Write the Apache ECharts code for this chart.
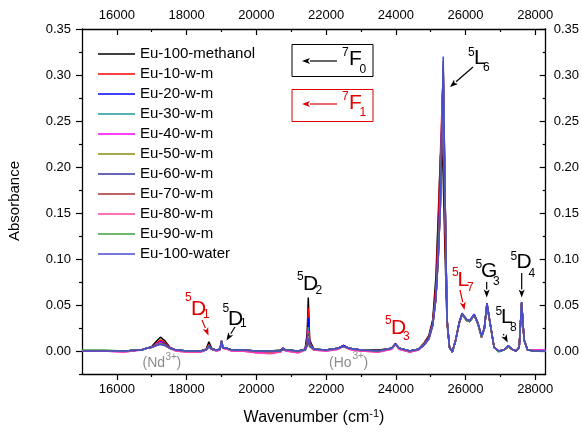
<!DOCTYPE html>
<html>
<head>
<meta charset="utf-8">
<script src="https://cdn.jsdelivr.net/npm/echarts@6/dist/echarts.min.js"></script>
<style>
  html, body { margin: 0; padding: 0; background: #fff; }
  #chart { width: 582px; height: 432px; }
</style>
</head>
<body>
<div id="chart"></div>
<script>
/* wavenumber grid (cm-1) shared by all spectra */
var wavenumber = [
  15000, 15600, 16200, 16700, 16850, 17000, 17120, 17250, 17380, 17520,
  17700, 18000, 18400, 18560, 18640, 18720, 18850, 18960, 19000, 19050,
  19150, 19300, 19600, 20000, 20400, 20700, 20760, 20850, 21200, 21400,
  21460, 21490, 21530, 21650, 22000, 22350, 22500, 22650, 23000, 23500,
  23880, 23990, 24100, 24400, 24650, 24800, 24950, 25060, 25150, 25220,
  25280, 25330, 25360, 25410, 25470, 25540, 25620, 25720, 25820, 25900,
  25950, 26040, 26120, 26250, 26360, 26460, 26540, 26615, 26700, 26820,
  26950, 27100, 27230, 27330, 27450, 27540, 27610, 27680, 27780, 28000,
  28300
];

var euMethanol = [
  0, 0, 0, 0.001, 0.003, 0.005, 0.010, 0.015, 0.011, 0.004,
  0.001, 0, 0, 0.002, 0.010, 0.003, 0.001, 0.002, 0.009, 0.003,
  0.003, 0.001, 0.001, 0, 0, 0.001, 0.003, 0.001, 0, 0.002,
  0.020, 0.058, 0.012, 0.002, 0.001, 0.003, 0.006, 0.003, 0.001, 0.001,
  0.003, 0.008, 0.003, 0, 0.002, 0.008, 0.017, 0.034, 0.080, 0.150,
  0.212, 0.225, 0.190, 0.110, 0.030, 0.004, -0.001, 0.012, 0.030, 0.039,
  0.041, 0.033, 0.032, 0.039, 0.029, 0.015, 0.024, 0.050, 0.031, 0.004,
  0, 0.001, 0.005, 0.002, 0, 0.004, 0.052, 0.012, 0.001, 0,
  0
];
var eu10 = [
  0, 0, 0, 0.001, 0.003, 0.004, 0.008, 0.012, 0.009, 0.004,
  0.001, 0, 0, 0.002, 0.007, 0.002, 0.001, 0.002, 0.010, 0.003,
  0.003, 0.001, 0.001, -0.001, -0.001, 0, 0.003, 0.001, -0.001, 0.002,
  0.016, 0.047, 0.010, 0.002, 0.001, 0.003, 0.006, 0.003, 0.001, 0,
  0.003, 0.008, 0.003, -0.001, 0.002, 0.008, 0.016, 0.032, 0.070, 0.135,
  0.215, 0.270, 0.225, 0.130, 0.032, 0.004, -0.001, 0.013, 0.032, 0.040,
  0.041, 0.033, 0.032, 0.039, 0.029, 0.016, 0.024, 0.051, 0.031, 0.004,
  0, 0.001, 0.005, 0.002, 0, 0.004, 0.053, 0.012, 0.001, 0.001,
  0
];
var eu20 = [
  0, 0, 0, 0.001, 0.003, 0.004, 0.007, 0.010, 0.008, 0.003,
  0.001, 0, 0, 0.001, 0.006, 0.002, 0.001, 0.002, 0.010, 0.003,
  0.003, 0.001, 0.001, 0, -0.001, 0, 0.003, 0.001, 0, 0.002,
  0.013, 0.036, 0.008, 0.002, 0.001, 0.003, 0.006, 0.003, 0.001, 0,
  0.003, 0.008, 0.003, 0, 0.002, 0.007, 0.015, 0.030, 0.062, 0.115,
  0.180, 0.270, 0.300, 0.165, 0.034, 0.004, -0.001, 0.012, 0.031, 0.040,
  0.042, 0.034, 0.033, 0.040, 0.030, 0.016, 0.025, 0.052, 0.032, 0.004,
  0, 0.001, 0.006, 0.002, 0, 0.004, 0.053, 0.012, 0.001, 0,
  0
];
var eu30 = [
  0, 0, 0, 0.001, 0.003, 0.004, 0.007, 0.009, 0.007, 0.003,
  0.001, 0, 0, 0.001, 0.006, 0.002, 0.001, 0.002, 0.011, 0.003,
  0.003, 0.001, 0.001, 0, -0.001, 0, 0.002, 0.001, 0, 0.001,
  0.010, 0.026, 0.007, 0.002, 0.001, 0.003, 0.005, 0.003, 0.001, 0,
  0.003, 0.007, 0.003, 0, 0.002, 0.007, 0.014, 0.029, 0.060, 0.110,
  0.170, 0.262, 0.292, 0.170, 0.034, 0.004, -0.001, 0.012, 0.030, 0.040,
  0.041, 0.033, 0.032, 0.039, 0.029, 0.015, 0.024, 0.051, 0.031, 0.004,
  0, 0.001, 0.005, 0.002, 0, 0.004, 0.052, 0.012, 0.001, 0,
  0
];
var eu40 = [
  0, 0, -0.001, 0.001, 0.003, 0.004, 0.007, 0.009, 0.007, 0.003,
  0, -0.001, -0.001, 0.001, 0.005, 0.002, 0, 0.001, 0.011, 0.003,
  0.002, 0, 0, -0.002, -0.002, -0.001, 0.002, 0, -0.002, 0.001,
  0.009, 0.022, 0.006, 0.001, 0, 0.002, 0.005, 0.002, 0, -0.001,
  0.002, 0.007, 0.002, -0.001, 0.001, 0.006, 0.014, 0.029, 0.058, 0.108,
  0.168, 0.262, 0.300, 0.172, 0.035, 0.004, -0.001, 0.012, 0.030, 0.040,
  0.041, 0.033, 0.032, 0.039, 0.029, 0.015, 0.024, 0.051, 0.031, 0.004,
  0, 0.001, 0.005, 0.002, 0, 0.004, 0.052, 0.012, 0.001, 0.001,
  0.001
];
var eu50 = [
  0, 0, 0, 0.001, 0.003, 0.004, 0.006, 0.008, 0.007, 0.003,
  0.001, 0, 0, 0.001, 0.005, 0.002, 0.001, 0.002, 0.011, 0.003,
  0.003, 0.001, 0.001, 0, -0.001, 0, 0.002, 0.001, 0, 0.001,
  0.008, 0.020, 0.006, 0.002, 0.001, 0.003, 0.005, 0.003, 0.001, 0,
  0.003, 0.007, 0.003, 0, 0.002, 0.006, 0.014, 0.029, 0.058, 0.106,
  0.165, 0.258, 0.305, 0.174, 0.034, 0.004, -0.001, 0.012, 0.030, 0.040,
  0.041, 0.033, 0.032, 0.039, 0.029, 0.015, 0.024, 0.051, 0.031, 0.004,
  0, 0.001, 0.005, 0.002, 0, 0.004, 0.052, 0.012, 0.001, 0,
  0
];
var eu60 = [
  0, 0, 0, 0.001, 0.003, 0.004, 0.006, 0.008, 0.007, 0.003,
  0.001, 0, 0, 0.001, 0.005, 0.002, 0.001, 0.002, 0.011, 0.003,
  0.003, 0.001, 0.001, 0, 0, 0, 0.002, 0.001, 0, 0.001,
  0.007, 0.018, 0.005, 0.002, 0.001, 0.003, 0.005, 0.003, 0.001, 0,
  0.003, 0.007, 0.003, 0, 0.002, 0.006, 0.014, 0.029, 0.058, 0.105,
  0.162, 0.255, 0.310, 0.176, 0.034, 0.004, -0.001, 0.012, 0.031, 0.041,
  0.042, 0.034, 0.033, 0.040, 0.030, 0.016, 0.025, 0.052, 0.032, 0.004,
  0, 0.001, 0.005, 0.002, 0, 0.004, 0.053, 0.012, 0.001, 0,
  0
];
var eu70 = [
  0, 0, 0, 0.001, 0.003, 0.004, 0.006, 0.008, 0.007, 0.003,
  0.001, 0, 0, 0.001, 0.005, 0.002, 0.001, 0.002, 0.011, 0.003,
  0.003, 0.001, 0.001, 0, 0, 0, 0.002, 0.001, 0, 0.001,
  0.007, 0.017, 0.005, 0.002, 0.001, 0.003, 0.005, 0.003, 0.001, 0,
  0.003, 0.007, 0.003, 0, 0.002, 0.006, 0.013, 0.028, 0.057, 0.104,
  0.160, 0.255, 0.308, 0.177, 0.034, 0.004, -0.001, 0.012, 0.030, 0.040,
  0.041, 0.033, 0.032, 0.039, 0.029, 0.015, 0.024, 0.051, 0.031, 0.004,
  0, 0.001, 0.005, 0.002, 0, 0.004, 0.052, 0.012, 0.001, 0,
  0
];
var eu80 = [
  0, 0, -0.001, 0.001, 0.003, 0.004, 0.006, 0.008, 0.006, 0.003,
  0, -0.001, -0.001, 0.001, 0.005, 0.002, 0, 0.001, 0.011, 0.003,
  0.002, 0, 0, -0.002, -0.003, -0.001, 0.002, 0, -0.002, 0.001,
  0.006, 0.016, 0.005, 0.001, 0, 0.002, 0.005, 0.002, 0, -0.001,
  0.002, 0.007, 0.002, -0.001, 0.001, 0.006, 0.013, 0.028, 0.057, 0.103,
  0.160, 0.252, 0.312, 0.178, 0.035, 0.004, -0.001, 0.012, 0.030, 0.040,
  0.041, 0.033, 0.032, 0.039, 0.029, 0.015, 0.024, 0.051, 0.031, 0.004,
  0, 0.001, 0.005, 0.002, 0, 0.004, 0.052, 0.012, 0.001, 0.001,
  0
];
var eu90 = [
  0.001, 0.001, 0, 0.001, 0.003, 0.004, 0.006, 0.008, 0.006, 0.003,
  0.001, 0, 0, 0.001, 0.005, 0.002, 0.001, 0.002, 0.011, 0.003,
  0.003, 0.001, 0.001, 0, 0, 0, 0.002, 0.001, 0, 0.001,
  0.006, 0.015, 0.005, 0.002, 0.001, 0.003, 0.005, 0.003, 0.001, 0,
  0.003, 0.007, 0.003, 0, 0.002, 0.006, 0.013, 0.028, 0.057, 0.103,
  0.158, 0.250, 0.315, 0.179, 0.035, 0.004, -0.001, 0.012, 0.030, 0.040,
  0.041, 0.033, 0.032, 0.039, 0.029, 0.015, 0.024, 0.051, 0.031, 0.004,
  -0.001, 0.001, 0.005, 0.002, 0, 0.004, 0.052, 0.012, 0.001, 0,
  0
];
var euWater = [
  0, 0, 0, 0.001, 0.003, 0.004, 0.006, 0.007, 0.006, 0.003,
  0.001, 0, 0, 0.001, 0.005, 0.002, 0.001, 0.002, 0.011, 0.003,
  0.003, 0.001, 0.001, 0, 0, 0, 0.002, 0.001, 0, 0.001,
  0.006, 0.014, 0.005, 0.002, 0.001, 0.003, 0.005, 0.003, 0.001, 0,
  0.003, 0.007, 0.003, 0, 0.002, 0.006, 0.013, 0.028, 0.056, 0.102,
  0.158, 0.250, 0.320, 0.180, 0.035, 0.004, -0.001, 0.012, 0.031, 0.041,
  0.042, 0.034, 0.033, 0.040, 0.030, 0.016, 0.025, 0.052, 0.032, 0.004,
  0, 0.001, 0.006, 0.002, 0, 0.004, 0.053, 0.012, 0.001, 0,
  0
];

var seriesNames = ['Eu-100-methanol', 'Eu-10-w-m', 'Eu-20-w-m', 'Eu-30-w-m', 'Eu-40-w-m',
  'Eu-50-w-m', 'Eu-60-w-m', 'Eu-70-w-m', 'Eu-80-w-m', 'Eu-90-w-m', 'Eu-100-water'];
var seriesValues = [euMethanol, eu10, eu20, eu30, eu40, eu50, eu60, eu70, eu80, eu90, euWater];
var seriesColors = ['#000000', '#ff0000', '#0000ff', '#1f9a9a', '#ff00ff',
  '#8a8a10', '#33339f', '#aa3030', '#ff40a0', '#3ca03c', '#4a4ad0'];

// tick positions
var xMajor = [16000, 18000, 20000, 22000, 24000, 26000, 28000];
var xMinor = [17000, 19000, 21000, 23000, 25000, 27000];
var yMajor = [0, 0.05, 0.10, 0.15, 0.20, 0.25, 0.30, 0.35];
var yMinor = [-0.025, 0.025, 0.075, 0.125, 0.175, 0.225, 0.275, 0.325];

var FONT = 'Arial, "Liberation Sans", sans-serif';

var chart = echarts.init(document.getElementById('chart'));

function xAx(pos, ticks, len, inside, labels, showLine) {
  return {
    type: 'value', position: pos, min: 15000, max: 28300,
    axisLine: { show: showLine, onZero: false, lineStyle: { color: '#000', width: 1.3 } },
    axisTick: { show: true, inside: inside, length: len, customValues: ticks, lineStyle: { color: '#000', width: 1.2 } },
    axisLabel: { show: labels, customValues: ticks, color: '#000', fontSize: 13, fontFamily: FONT,
      margin: pos === 'top' ? 7 : 9,
      formatter: function (v) { return String(v); } },
    splitLine: { show: false }
  };
}
function yAx(pos, ticks, len, inside, labels, showLine) {
  return {
    type: 'value', position: pos, min: -0.025, max: 0.35,
    axisLine: { show: showLine, onZero: false, lineStyle: { color: '#000', width: 1.3 } },
    axisTick: { show: true, inside: inside, length: len, customValues: ticks, lineStyle: { color: '#000', width: 1.2 } },
    axisLabel: { show: labels, customValues: ticks, color: '#000', fontSize: 13, fontFamily: FONT,
      margin: pos === 'left' ? 11 : 8,
      formatter: function (v) { return v.toFixed(2); } },
    splitLine: { show: false }
  };
}

var series = seriesNames.map(function (name, i) {
  return {
    name: name,
    type: 'line',
    xAxisIndex: 0,
    yAxisIndex: 0,
    symbol: 'none',
    animation: false,
    lineStyle: { width: 1.5, color: seriesColors[i] },
    itemStyle: { color: seriesColors[i] },
    data: wavenumber.map(function (x, j) { return [x, seriesValues[i][j]]; })
  };
});

// annotation pieces: text, left x, center y, size, colour
var BLACK = '#000', RED = '#e00000', GREY = '#8c8c8c';
var labels = [
  ['5', 468, 53, 12, BLACK], ['L', 474, 58, 21, BLACK], ['6', 483, 68, 12, BLACK],
  ['7', 342, 53, 12, BLACK], ['F', 349, 59, 21, BLACK], ['0', 359.5, 69.5, 12, BLACK],
  ['7', 342, 97, 12, RED], ['F', 349, 103, 21, RED], ['1', 359.5, 112.5, 12, RED],
  ['5', 297, 277, 12, BLACK], ['D', 303, 284, 21, BLACK], ['2', 315.5, 291, 12, BLACK],
  ['5', 185, 298, 12, RED], ['D', 191, 309, 21, RED], ['1', 203, 315, 12, RED],
  ['5', 222.5, 309, 12, BLACK], ['D', 228, 319, 21, BLACK], ['1', 240, 324, 12, BLACK],
  ['5', 385, 321, 12, RED], ['D', 391, 328, 21, RED], ['3', 403, 337, 12, RED],
  ['5', 452, 273, 12, RED], ['L', 457.5, 280, 21, RED], ['7', 467, 288, 12, RED],
  ['5', 475.5, 265, 12, BLACK], ['G', 481, 271.5, 21, BLACK], ['3', 493, 282, 12, BLACK],
  ['5', 495.5, 311.5, 12, BLACK], ['L', 501, 317, 21, BLACK], ['8', 510, 328, 12, BLACK],
  ['5', 510.5, 256.5, 12, BLACK], ['D', 516.5, 262, 21, BLACK], ['4', 528.5, 274, 12, BLACK],
  ['(Nd', 142.5, 363.5, 14, GREY], ['3+', 165.5, 357, 10, GREY], [')', 176.5, 363.5, 14, GREY],
  ['(Ho', 329, 363, 14, GREY], ['3+', 352.5, 356.5, 10, GREY], [')', 363.5, 363, 14, GREY]
];
// arrows: x1, y1, x2 (head), y2 (head), colour
var arrows = [
  [473, 67, 450, 87, BLACK],
  [337, 61, 302, 61, BLACK],
  [337, 104, 302, 104, RED],
  [202, 320, 208.5, 335.5, RED],
  [235, 327, 226.5, 340.5, BLACK],
  [460, 290, 464.5, 310, RED],
  [486.7, 282, 486.7, 297.5, BLACK],
  [503.3, 334, 507.7, 342.5, BLACK],
  [521.7, 273, 521.7, 297.5, BLACK]
];

var graphics = [];
labels.forEach(function (l) {
  graphics.push({
    type: 'text', x: l[1], y: l[2], silent: true,
    style: { text: l[0], fill: l[4], font: l[3] + 'px ' + FONT, textAlign: 'left', textVerticalAlign: 'middle' }
  });
});
arrows.forEach(function (a) {
  var dx = a[2] - a[0], dy = a[3] - a[1];
  var len = Math.sqrt(dx * dx + dy * dy);
  var ux = dx / len, uy = dy / len;
  var hl = 8, hw = 3;
  var bx = a[2] - ux * hl, by = a[3] - uy * hl;
  graphics.push({
    type: 'line', silent: true,
    shape: { x1: a[0], y1: a[1], x2: bx, y2: by },
    style: { stroke: a[4], lineWidth: 1.2 }
  });
  graphics.push({
    type: 'polygon', silent: true,
    shape: { points: [[a[2], a[3]], [bx - uy * hw, by + ux * hw], [bx + ux * 2, by + uy * 2], [bx + uy * hw, by - ux * hw]] },
    style: { fill: a[4] }
  });
});
graphics.push({ type: 'rect', silent: true, shape: { x: 292, y: 44.5, width: 81, height: 32 },
  style: { fill: 'none', stroke: '#000', lineWidth: 1 } });
graphics.push({ type: 'rect', silent: true, shape: { x: 292, y: 89.5, width: 81, height: 32 },
  style: { fill: 'none', stroke: '#e00000', lineWidth: 1 } });
// axis titles
graphics.push({
  type: 'text', x: 314, y: 418, silent: true,
  style: {
    text: '{a|Wavenumber (cm}{s|-1}{a|)}', textAlign: 'center', textVerticalAlign: 'middle',
    rich: {
      a: { fontSize: 16, fontFamily: FONT, fill: '#000', lineHeight: 20 },
      s: { fontSize: 11, fontFamily: FONT, fill: '#000', verticalAlign: 'top', lineHeight: 12 }
    }
  }
});
graphics.push({
  type: 'text', x: 15, y: 201, rotation: Math.PI / 2, silent: true,
  style: { text: 'Absorbance', fill: '#000', font: '15px ' + FONT, textAlign: 'center', textVerticalAlign: 'middle' }
});

chart.setOption({
  animation: false,
  backgroundColor: '#fff',
  grid: { left: 82, right: 36, top: 29, bottom: 58 },
  legend: {
    orient: 'vertical', left: 93, top: 39,
    icon: 'rect', itemWidth: 37, itemHeight: 1.3, itemGap: 0,
    textStyle: { fontSize: 15, fontFamily: FONT, color: '#000', lineHeight: 20 },
    data: seriesNames
  },
  xAxis: [
    xAx('bottom', xMajor, 6, false, true, true),
    xAx('bottom', xMinor, 3, false, false, false),
    xAx('top', xMajor, 6, true, true, true),
    xAx('top', xMinor, 3, true, false, false)
  ],
  yAxis: [
    yAx('left', yMajor, 6, false, true, true),
    yAx('left', yMinor, 3, false, false, false),
    yAx('right', yMajor, 6, true, true, true),
    yAx('right', yMinor, 3, true, false, false)
  ],
  series: series,
  graphic: graphics
});
</script>
</body>
</html>
